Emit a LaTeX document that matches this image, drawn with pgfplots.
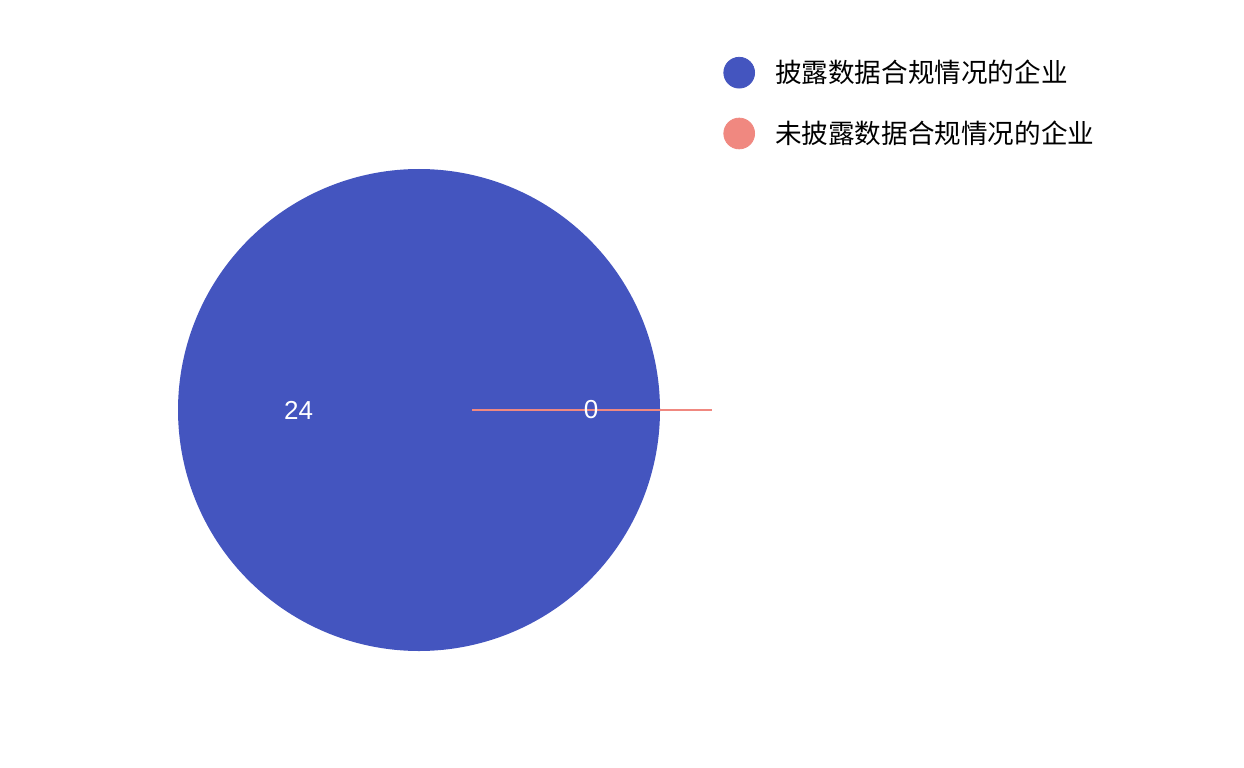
\documentclass[border=0pt]{standalone}
\usepackage{pgfplots}
\pgfplotsset{compat=1.18}
\usepackage{pgfplotstable}
\usepackage{fontspec}
\setmainfont{Liberation Sans}
\newfontfamily\cjk{Noto Sans CJK SC}
\definecolor{pieblue}{RGB}{68,85,191}
\definecolor{piered}{RGB}{240,136,128}
\pgfplotstableread[col sep=comma]{
label,value
披露数据合规情况的企业,24
未披露数据合规情况的企业,0
}\piedata
\begin{document}
\begin{tikzpicture}
\pgfplotstablegetelem{0}{value}\of\piedata \edef\va{\pgfplotsretval}
\pgfplotstablegetelem{1}{value}\of\piedata \edef\vb{\pgfplotsretval}
\pgfmathsetmacro\total{\va+\vb}
\pgfmathsetmacro\anga{360*\va/\total}
\def\cx{419}\def\cy{357}\def\rr{241}
\begin{axis}[
  scale only axis, width=622pt, height=383.5pt,
  xmin=0, xmax=1244, ymin=0, ymax=767,
  hide axis, clip=false,
  legend cell align=left,
  legend style={draw=none, fill=none, inner sep=0pt,
    at={(axis cs:723,710.5)}, anchor=north west,
    font=\cjk\fontsize{13.3}{15}\selectfont,
    nodes={inner sep=0pt},
    row sep=14.6pt,
    /tikz/every odd column/.append style={column sep=10pt}},
]
% slice 1 (full circle when the other value is 0)
\addplot[fill=pieblue, draw=none, domain=0:\anga, samples=361, variable=\t, forget plot]
  ({\cx+\rr*cos(\t)}, {\cy+\rr*sin(\t)}) -- (axis cs:\cx,\cy) -- cycle;
% slice 2: zero value, drawn as a line at angle 0
\addplot[piered, line width=1.1pt, forget plot] coordinates {(472,357) (712,357)};
\node[text=white, font=\fontsize{13}{15}\selectfont] at (axis cs:298.5,357) {\va};
\node[text=white, font=\fontsize{13}{15}\selectfont] at (axis cs:591,357) {\vb};
\addlegendimage{legend image code/.code={\fill[pieblue] (7.7pt,0pt) circle[radius=7.7pt];}}
\addlegendentry{披露数据合规情况的企业}
\addlegendimage{legend image code/.code={\fill[piered] (7.7pt,0pt) circle[radius=7.7pt];}}
\addlegendentry{未披露数据合规情况的企业}
\end{axis}
\pgfresetboundingbox
\path (current axis.south west) rectangle (current axis.north east);
\end{tikzpicture}
\end{document}
